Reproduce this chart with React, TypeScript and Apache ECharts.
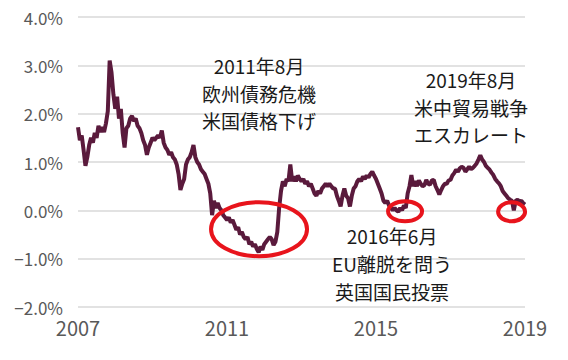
import React, { useEffect, useRef } from "react";
import * as echarts from "echarts";

// Time axis: years since START_YEAR, samples every STEP years
const START_YEAR = 2007;
const STEP = 0.05;
const X_MAX = 12;
const X_INTERVAL = 4;

const Y_MIN = -2;
const Y_MAX = 4;
const Y_INTERVAL = 1;

// Yield (%) values, 20 samples per year
const y2007 = [1.72, 1.45, 1.55, 1.25, 0.92, 1.1, 1.35, 1.5, 1.4, 1.6, 1.5, 1.75, 1.62, 1.72, 1.62, 1.8, 2.05, 3.1, 2.85, 2.4];
const y2008 = [2.1, 2.35, 1.9, 2.1, 1.6, 1.3, 1.7, 1.75, 1.9, 1.95, 1.85, 1.9, 1.75, 1.7, 1.6, 1.45, 1.35, 1.15, 1.3, 1.4];
const y2009 = [1.5, 1.45, 1.5, 1.55, 1.5, 1.65, 1.4, 1.3, 1.25, 1.15, 1.2, 1.1, 1.05, 0.95, 0.75, 0.42, 0.55, 0.65, 0.95, 1.05];
const y2010 = [1.1, 1.2, 1.35, 1.1, 1.0, 0.95, 0.85, 0.8, 0.75, 0.65, 0.55, 0.35, -0.1, 0.2, 0.05, 0.15, 0.05, 0.0, -0.1, -0.15];
const y2011 = [-0.2, -0.15, -0.25, -0.2, -0.3, -0.4, -0.35, -0.5, -0.45, -0.55, -0.6, -0.55, -0.7, -0.65, -0.75, -0.7, -0.8, -0.87, -0.75, -0.82];
const y2012 = [-0.7, -0.65, -0.6, -0.55, -0.6, -0.72, -0.65, -0.45, 0.05, 0.4, 0.6, 0.5, 0.65, 0.6, 0.95, 0.6, 0.7, 0.6, 0.72, 0.65];
const y2013 = [0.6, 0.65, 0.55, 0.6, 0.5, 0.55, 0.45, 0.35, 0.3, 0.4, 0.35, 0.45, 0.5, 0.55, 0.5, 0.55, 0.5, 0.45, 0.45, 0.3];
const y2014 = [0.2, 0.08, 0.3, 0.45, 0.3, 0.25, 0.08, 0.3, 0.45, 0.5, 0.6, 0.65, 0.6, 0.7, 0.65, 0.72, 0.68, 0.75, 0.8, 0.72];
const y2015 = [0.65, 0.55, 0.45, 0.35, 0.2, 0.15, 0.2, 0.1, 0.05, 0.0, 0.05, 0.0, -0.03, 0.05, 0.0, 0.1, 0.05, 0.35, 0.5, 0.73];
const y2016 = [0.5, 0.6, 0.5, 0.62, 0.55, 0.5, 0.52, 0.63, 0.55, 0.53, 0.62, 0.63, 0.5, 0.42, 0.33, 0.42, 0.5, 0.55, 0.55, 0.62];
const y2017 = [0.63, 0.72, 0.77, 0.84, 0.8, 0.87, 0.9, 0.88, 0.8, 0.85, 0.9, 0.85, 0.88, 0.92, 0.97, 1.05, 1.14, 1.05, 1.0, 0.92];
const y2018 = [0.88, 0.84, 0.78, 0.73, 0.65, 0.6, 0.56, 0.5, 0.4, 0.35, 0.3, 0.25, 0.22, 0.2, 0.0, 0.2, 0.22, 0.18, 0.2, 0.15];
const y2019 = [0.12];

const yields = [...y2007, ...y2008, ...y2009, ...y2010, ...y2011, ...y2012, ...y2013, ...y2014, ...y2015, ...y2016, ...y2017, ...y2018, ...y2019];

// Annotations (anchored in data units: years since 2007, %)
const annotationTexts = [
  ["2011年8月", "欧州債務危機", "米国債格下げ"],
  ["2016年6月", "EU離脱を問う", "英国国民投票"],
  ["2019年8月", "米中貿易戦争", "エスカレート"],
];
const annotationAnchors = [
  [4.86, 2.42],
  [8.43, -1.1],
  [10.55, 2.13],
];
const circleAnchors = [
  [4.86, -0.39],
  [8.78, -0.02],
  [11.64, -0.03],
];
const circleRadii = [
  [48, 27],
  [17, 10],
  [13.5, 9.5],
];

const FONT = '"Noto Sans CJK JP", "Noto Sans", sans-serif';
const ANN_FONT_SIZE = 19;
const LINE_GAP = 27.6;

export default function App() {
  const ref = useRef<HTMLDivElement>(null);

  useEffect(() => {
    document.body.style.margin = "0";
    if (!ref.current) return;
    const chart = echarts.init(ref.current, null, { renderer: "svg" });
    const data = yields.map((v, i) => [i * STEP, v]);
    chart.setOption({
      animation: false,
      grid: { left: 78, right: 43, top: 17, bottom: 53 },
      xAxis: {
        type: "value",
        min: 0,
        max: X_MAX,
        interval: X_INTERVAL,
        axisLine: { show: false },
        axisTick: { show: false },
        splitLine: { show: false },
        axisLabel: {
          formatter: (v: number) => String(START_YEAR + Math.round(v)),
          fontSize: 20,
          color: "#595959",
          margin: 10,
          fontFamily: FONT,
        },
      },
      yAxis: {
        type: "value",
        min: Y_MIN,
        max: Y_MAX,
        interval: Y_INTERVAL,
        axisLine: { show: false },
        axisTick: { show: false },
        splitLine: { lineStyle: { color: "#d9d9d9", width: 1.5 } },
        axisLabel: {
          formatter: (v: number) => (v < 0 ? "\u2212" : "") + Math.abs(v).toFixed(1) + "%",
          fontSize: 17,
          color: "#595959",
          margin: 15,
          fontFamily: FONT,
        },
      },
      series: [
        {
          type: "line",
          data,
          showSymbol: false,
          lineStyle: { color: "#5a1a3c", width: 4 },
          z: 2,
        },
      ],
    });

    const graphic: any[] = [];
    circleAnchors.forEach((a, i) => {
      const p = chart.convertToPixel({ gridIndex: 0 }, a) as number[];
      graphic.push({
        type: "ellipse",
        shape: { cx: p[0], cy: p[1], rx: circleRadii[i][0], ry: circleRadii[i][1] },
        style: { fill: "none", stroke: "#e8141c", lineWidth: 4 },
        z: 100,
      });
    });
    annotationAnchors.forEach((a, i) => {
      const p = chart.convertToPixel({ gridIndex: 0 }, a) as number[];
      const lines = annotationTexts[i];
      lines.forEach((line, j) => {
        graphic.push({
          type: "text",
          x: p[0],
          y: p[1] + (j - (lines.length - 1) / 2) * LINE_GAP,
          style: {
            text: line,
            fontSize: ANN_FONT_SIZE,
            fontFamily: FONT,
            fill: "#1a1a1a",
            align: "center",
            verticalAlign: "middle",
          },
          z: 100,
        });
      });
    });
    chart.setOption({ graphic });

    return () => chart.dispose();
  }, []);

  return <div ref={ref} style={{ width: 568, height: 360 }} />;
}
